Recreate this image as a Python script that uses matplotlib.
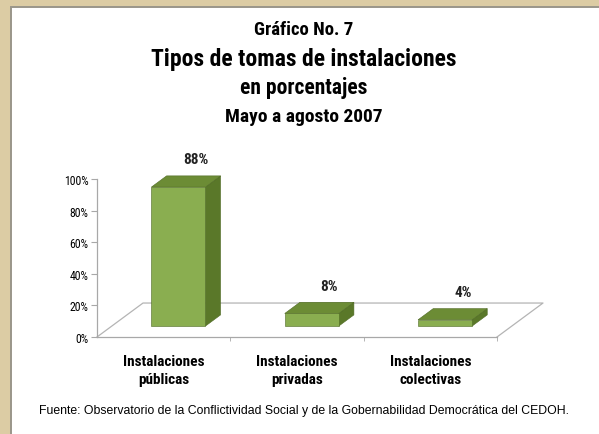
import matplotlib
matplotlib.use("Agg")
import matplotlib.pyplot as plt
from matplotlib.patches import Polygon, Rectangle
from matplotlib import font_manager

# ---- data ----
categories = ["Instalaciones\npúblicas", "Instalaciones\nprivadas", "Instalaciones\ncolectivas"]
values = [88, 8, 4]
value_labels = ["88%", "8%", "4%"]
y_ticks = [0, 20, 40, 60, 80, 100]
y_tick_labels = ["0%", "20%", "40%", "60%", "80%", "100%"]

title_top = "Gráfico No. 7"
title_main_1 = "Tipos de tomas de instalaciones"
title_main_2 = "en porcentajes"
title_sub = "Mayo a agosto 2007"
source = "Fuente: Observatorio de la Conflictividad Social y de la Gobernabilidad Democrática del CEDOH."

# ---- fonts: a narrow sans close to Arial Narrow ----
names = {f.name for f in font_manager.fontManager.ttflist}
FONT = "Liberation Sans"
for cand in ("Liberation Sans Narrow", "Arial Narrow", "Roboto Condensed",
             "Open Sans Condensed", "Barlow Semi Condensed", "Archivo Narrow"):
    if cand in names:
        FONT = cand
        break
plt.rcParams["font.family"] = [FONT, "DejaVu Sans"]
SRC_FONT = ["Liberation Sans", "DejaVu Sans"]

W, H = 599, 435
fig = plt.figure(figsize=(W / 100, H / 100), dpi=100)
fig.patch.set_facecolor("#dccca4")

# white card on the parchment background
panel = Rectangle((11 / W, -0.01), 1.0, (H - 8) / H + 0.01, transform=fig.transFigure,
                  facecolor="white", edgecolor="#9a968a", linewidth=1.4, zorder=-5)
fig.patches.append(panel)

# ---- titles (positioned by baseline, in pixels from the top) ----
cx = 304 / W


def fy(px):
    return 1 - px / H


fig.text(cx, fy(35), title_top, ha="center", va="baseline", fontsize=13.5, fontweight="bold")
fig.text(cx, fy(66), title_main_1, ha="center", va="baseline", fontsize=17, fontweight="bold")
fig.text(cx, fy(94), title_main_2, ha="center", va="baseline", fontsize=15.5, fontweight="bold")
fig.text(cx, fy(122), title_sub, ha="center", va="baseline", fontsize=14, fontweight="bold")
fig.text(cx, fy(414), source, ha="center", va="baseline", fontsize=8.8, family=SRC_FONT)

# ---- axes (front plane of the pseudo-3D chart) ----
ax = fig.add_axes([97 / W, (H - 338) / H, 400 / W, 158 / H])
ax.set_xlim(0, 3)
ax.set_ylim(0, 100)
ax.patch.set_alpha(0)

for s in ("top", "right"):
    ax.spines[s].set_visible(False)
for s in ("left", "bottom"):
    ax.spines[s].set_color("#a8a8a8")
    ax.spines[s].set_linewidth(0.9)

ax.set_yticks(y_ticks)
ax.set_yticklabels(y_tick_labels, fontsize=8.5)
ax.tick_params(axis="y", direction="out", length=4, color="#a8a8a8", pad=2)

ax.set_xticks([i + 0.5 for i in range(len(categories))])
ax.set_xticklabels(categories, fontsize=11, fontweight="bold", linespacing=1.4)
ax.tick_params(axis="x", which="major", length=0, pad=12)
ax.set_xticks([1, 2, 3], minor=True)
ax.tick_params(axis="x", which="minor", direction="out", length=3, color="#a8a8a8")

# floor depth (in data units) and bar placement inside it
floor_dx, floor_dy = 0.345, 21.5
f0, f1 = 0.32, 0.65
bar_w = 0.405

floor_col = "#b4b4b4"
ax.plot([0, floor_dx, 3 + floor_dx, 3], [0, floor_dy, floor_dy, 0],
        color=floor_col, lw=0.9, clip_on=False, zorder=1)

front_c, side_c, top_c = "#8aae50", "#5a7829", "#6c8c35"
edge_c = "#4f6a24"

for i, v in enumerate(values):
    x0 = i + 0.5 - bar_w / 2
    x1 = x0 + bar_w
    ox0, oy0 = f0 * floor_dx, f0 * floor_dy
    ox1, oy1 = f1 * floor_dx, f1 * floor_dy
    front = [(x0 + ox0, oy0), (x1 + ox0, oy0), (x1 + ox0, v + oy0), (x0 + ox0, v + oy0)]
    side = [(x1 + ox0, oy0), (x1 + ox1, oy1), (x1 + ox1, v + oy1), (x1 + ox0, v + oy0)]
    top = [(x0 + ox0, v + oy0), (x1 + ox0, v + oy0), (x1 + ox1, v + oy1), (x0 + ox1, v + oy1)]
    for pts, col in ((side, side_c), (top, top_c), (front, front_c)):
        ax.add_patch(Polygon(pts, closed=True, facecolor=col, edgecolor=edge_c,
                             linewidth=0.4, clip_on=False, zorder=3))
    ax.annotate(value_labels[i], xy=(x1 + ox0 - 0.07, v + oy1),
                xytext=(0, 12), textcoords="offset points", ha="center", va="center",
                fontsize=11, fontweight="bold", color="#222222", annotation_clip=False)

fig.savefig("out.png", dpi=100, facecolor=fig.get_facecolor())
